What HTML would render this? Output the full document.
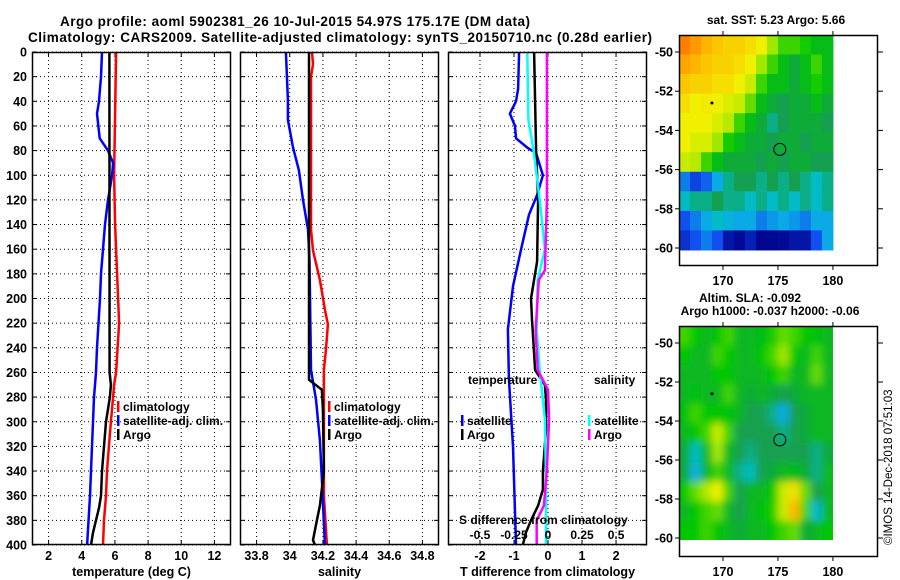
<!DOCTYPE html>
<html><head><meta charset="utf-8"><style>
body{margin:0;background:#fff;}
svg{display:block;font-family:"Liberation Sans",sans-serif;font-weight:bold;}
</style></head><body>
<svg id="c" width="900" height="580" viewBox="0 0 900 580">
<defs>
<filter id="blur" x="-5%" y="-5%" width="110%" height="110%"><feGaussianBlur stdDeviation="4"/></filter>
<clipPath id="slaclip"><rect x="679" y="326" width="154" height="214"/></clipPath>
</defs>
<text x="60" y="26" font-size="13.5" textLength="470">Argo profile: aoml 5902381_26 10-Jul-2015 54.97S 175.17E (DM data)</text>
<text x="340" y="42" font-size="13.5" text-anchor="middle" textLength="624">Climatology: CARS2009. Satellite-adjusted climatology: synTS_20150710.nc (0.28d earlier)</text>
<text x="776" y="24" font-size="12" text-anchor="middle">sat. SST: 5.23 Argo: 5.66</text>
<text x="750" y="302" font-size="12" text-anchor="middle">Altim. SLA: -0.092</text>
<text x="770" y="315" font-size="12" text-anchor="middle">Argo h1000: -0.037 h2000: -0.06</text>
<text transform="translate(892,545) rotate(-90)" font-size="11.5" font-weight="normal">©IMOS 14-Dec-2018 07:51:03</text>
</svg>
<script>
// ---------- data ----------
const depthTicks=[0,20,40,60,80,100,120,140,160,180,200,220,240,260,280,300,320,340,360,380,400];
const tempTicks=[2,4,6,8,10,12];
const salTicks=[33.8,34,34.2,34.4,34.6,34.8];
const salTickLabels=["33.8","34","34.2","34.4","34.6","34.8"];
const tdiffTicks=[-2,-1,0,1,2];
const sdiffTicks=[-0.5,-0.25,0,0.25,0.5];
const sdiffTickLabels=["-0.5","-0.25","0","0.25","0.5"];

const climTDepth=[0,100,140,200,220,260,270,280,300,320,340,360,380,400];
const climT=[6.07,5.95,6.01,6.19,6.25,6.07,5.95,5.89,5.76,5.64,5.52,5.46,5.34,5.28];
const satTDepth=[0,20,40,50,70,80,90,100,120,140,160,180,200,240,260,280,300,340,360,400];
const satT=[5.22,5.16,5.04,4.92,5.08,5.58,5.89,5.83,5.58,5.40,5.28,5.16,5.10,4.92,4.86,4.74,4.68,4.56,4.50,4.32];
const argoTDepth=[0,260,270,280,300,320,340,360,370,380,390,400];
const argoT=[5.67,5.68,5.76,5.70,5.46,5.34,5.22,5.16,5.04,4.86,4.68,4.56];

const climSDepth=[0,10,20,144,161,185,209,221,242,258,300,360,400];
const climS=[34.134,34.140,34.128,34.128,34.140,34.182,34.212,34.230,34.218,34.206,34.206,34.206,34.224];
const satSDepth=[0,39,55,77,96,120,144,169,258,282,315,347,400];
const satS=[33.977,33.989,33.989,34.019,34.055,34.080,34.110,34.119,34.128,34.158,34.182,34.194,34.212];
const argoSDepth=[0,266,274,290,340,368,380,396,400];
const argoS=[34.116,34.116,34.194,34.200,34.206,34.182,34.164,34.140,34.152];

const satTdDepth=[0,30,40,50,60,70,78,82,100,116,132,160,190,225,265,320,400];
const satTd=[-0.85,-0.88,-0.94,-1.12,-0.97,-0.94,-0.59,-0.35,-0.15,-0.32,-0.56,-0.79,-1.03,-1.18,-1.15,-1.03,-0.94];
const argoTdDepth=[0,80,120,170,200,217,258,270,282,307,340,355,368,380,390,400];
const argoTd=[-0.41,-0.35,-0.29,-0.32,-0.50,-0.47,-0.38,-0.09,-0.06,-0.06,-0.15,-0.15,-0.29,-0.50,-0.65,-0.74];
const satSdDepth=[0,55,80,120,160,185,226,258,298,347,400];
const satSd=[-0.152,-0.144,-0.106,-0.061,-0.023,-0.076,-0.083,-0.061,-0.023,-0.015,-0.015];
const argoSdDepth=[0,120,177,185,226,258,274,298,339,368,380,400];
const argoSd=[-0.008,-0.008,-0.023,-0.068,-0.091,-0.076,0,0.008,-0.008,-0.030,-0.083,-0.083];

const sstGrid=[
[.85,.8,.75,.72,.7,.7,.68,.65,.55,.5,.5,.48,.45,.45],
[.78,.75,.72,.7,.7,.68,.65,.55,.5,.45,.42,.45,.5,.45],
[.72,.7,.7,.68,.68,.65,.6,.5,.45,.45,.42,.45,.48,.45],
[.68,.65,.66,.65,.62,.6,.52,.45,.42,.4,.42,.42,.45,.42],
[.65,.65,.65,.62,.58,.5,.45,.42,.38,.4,.42,.42,.42,.4],
[.65,.62,.62,.55,.48,.45,.42,.42,.4,.42,.42,.4,.42,.42],
[.6,.58,.5,.45,.42,.42,.42,.4,.42,.4,.42,.42,.4,.4],
[.25,.18,.22,.3,.38,.4,.4,.38,.4,.38,.4,.38,.35,.38],
[.35,.38,.38,.4,.38,.38,.35,.38,.35,.38,.35,.38,.35,.38],
[.2,.25,.3,.35,.32,.3,.3,.25,.28,.3,.28,.25,.3,.3],
[.15,.2,.25,.2,.1,.08,.12,.05,.05,.08,.1,.1,.2,.3]];
const slaGrid=[
[.5,.47,.44,.47,.5,.44,.44,.45,.48,.52,.5,.47,.46,.44],
[.47,.44,.44,.5,.47,.44,.44,.47,.5,.55,.47,.44,.5,.44],
[.44,.44,.44,.47,.47,.44,.44,.44,.47,.5,.44,.44,.52,.44],
[.44,.46,.44,.44,.5,.44,.42,.44,.42,.4,.42,.44,.44,.44],
[.46,.5,.47,.47,.46,.44,.4,.4,.38,.3,.4,.42,.44,.44],
[.44,.47,.5,.6,.5,.4,.4,.4,.4,.38,.4,.42,.44,.44],
[.42,.36,.44,.55,.44,.4,.38,.4,.4,.4,.4,.4,.38,.42],
[.42,.32,.44,.5,.44,.38,.36,.4,.42,.44,.45,.42,.38,.44],
[.47,.52,.57,.65,.5,.4,.44,.44,.47,.6,.68,.52,.4,.44],
[.44,.47,.5,.52,.44,.4,.44,.46,.48,.6,.75,.5,.34,.44],
[.47,.47,.5,.47,.44,.42,.44,.44,.47,.5,.52,.42,.44,.47]];
const latTicks=[-50,-52,-54,-56,-58,-60];
const lonTicks=[170,175,180];
const argoLon=175.17, argoLat=-54.97;

// ---------- helpers ----------
const NS="http://www.w3.org/2000/svg";
const svg=document.getElementById('c');
function el(tag,attrs,parent){const e=document.createElementNS(NS,tag);for(const k in attrs)e.setAttribute(k,attrs[k]);(parent||svg).appendChild(e);return e;}
const PT=52,PB=545;
const yD=d=>PT+(d/400)*(PB-PT);
function lin(d0,d1,r0,r1){return v=>r0+(v-d0)/(d1-d0)*(r1-r0);}

function panel(name,x0,x1,xs,ticks,labels,xlabel,showDepth){
  const g=el('g',{});
  
  
  ticks.forEach(t=>{const x=xs(t);
    el('line',{x1:x,y1:PT,x2:x,y2:PB,stroke:'#000','stroke-width':1,'stroke-dasharray':'1,3'},g);
    el('line',{x1:x,y1:PT,x2:x,y2:PT+5,stroke:'#000'},g);
    el('line',{x1:x,y1:PB,x2:x,y2:PB-5,stroke:'#000'},g);});
  depthTicks.forEach(d=>{const y=yD(d);
    el('line',{x1:x0,y1:y,x2:x1,y2:y,stroke:'#000','stroke-width':1,'stroke-dasharray':'1,3'},g);
    el('line',{x1:x0,y1:y,x2:x0+5,y2:y,stroke:'#000'},g);
    el('line',{x1:x1,y1:y,x2:x1-5,y2:y,stroke:'#000'},g);
    if(showDepth){const t=el('text',{x:27,y:y+4.5,'font-size':12.5,'text-anchor':'end'},g);t.textContent=d;
      
      }
  });
  ticks.forEach((t,i)=>{const tx=el('text',{x:xs(t),y:560,'font-size':12.5,'text-anchor':'middle'},g);tx.textContent=labels[i];
    
    });
  const xt=el('text',{x:(x0+x1)/2,y:576,'font-size':12.5,'text-anchor':'middle'},g);xt.textContent=xlabel;
  
  
  return g;
}
function frame(g,x0,x1){const r=el('rect',{x:x0+0.5,y:PT+0.5,width:x1-x0-1,height:PB-PT-1,fill:'none',stroke:'#000','stroke-width':1.5},g);
  
  }
function series(g,name,depths,vals,xs,color,w){
  let d='';vals.forEach((v,i)=>{d+=(i?'L':'M')+xs(v).toFixed(1)+','+yD(depths[i]).toFixed(1);});
  const p=el('path',{d:d,fill:'none',stroke:color,'stroke-width':w||2.5,'stroke-linejoin':'round'},g);
  
  
}
function legend(g,x,y,color,label,name){
  el('rect',{x:x,y:y-9,width:2.5,height:11,fill:color},g);
  const t=el('text',{x:x+6,y:y+1,'font-size':12},g);t.textContent=label;
  
  
}

// Panel 1 temperature
const xT=lin(1,13,32,231);
const g1=panel('temperature-panel',32,231,xT,tempTicks,tempTicks.map(String),'temperature (deg C)',true);
series(g1,'temp-climatology-line',climTDepth,climT,xT,'#ff0000');
series(g1,'temp-satellite-line',satTDepth,satT,xT,'#0000ff');
series(g1,'temp-argo-line',argoTDepth,argoT,xT,'#000000');
frame(g1,32,231);
legend(g1,117,410,'#f00','climatology','legend-climatology');
legend(g1,117,424,'#00f','satellite-adj. clim.','legend-satellite');
legend(g1,117,438,'#000','Argo','legend-argo');

// Panel 2 salinity
const xS=lin(33.7,34.9,240,439);
const g2=panel('salinity-panel',240,439,xS,salTicks,salTickLabels,'salinity',false);
series(g2,'sal-climatology-line',climSDepth,climS,xS,'#ff0000');
series(g2,'sal-satellite-line',satSDepth,satS,xS,'#0000ff');
series(g2,'sal-argo-line',argoSDepth,argoS,xS,'#000000');
frame(g2,240,439);
legend(g2,328,410,'#f00','climatology','legend-climatology');
legend(g2,328,424,'#00f','satellite-adj. clim.','legend-satellite');
legend(g2,328,438,'#000','Argo','legend-argo');

// Panel 3 differences
const xTd=lin(-2.94,2.91,448,647);
const xSd=v=>xTd(v*4);
const g3=panel('difference-panel',448,647,xTd,tdiffTicks,tdiffTicks.map(String),'T difference from climatology',false);
series(g3,'tdiff-satellite-line',satTdDepth,satTd,xTd,'#0000ff');
series(g3,'tdiff-argo-line',argoTdDepth,argoTd,xTd,'#000000');
series(g3,'sdiff-satellite-line',satSdDepth,satSd,xSd,'#00ffff');
series(g3,'sdiff-argo-line',argoSdDepth,argoSd,xSd,'#ff00ff');
frame(g3,448,647);
{const t=el('text',{x:468,y:384,'font-size':12},g3);t.textContent='temperature';
 
 
 const s=el('text',{x:594,y:384,'font-size':12},g3);s.textContent='salinity';
 
 }
legend(g3,461,424,'#00f','satellite','legend-temp-satellite');
legend(g3,461,438,'#000','Argo','legend-temp-argo');
legend(g3,588,424,'#0ff','satellite','legend-sal-satellite');
legend(g3,588,438,'#f0f','Argo','legend-sal-argo');
{const t=el('text',{x:459,y:524,'font-size':12},g3);t.textContent='S difference from climatology';
 
 
 sdiffTicks.forEach((v,i)=>{const tx=el('text',{x:xSd(v),y:539,'font-size':12,'text-anchor':'middle'},g3);tx.textContent=sdiffTickLabels[i];
   
   });}

// ---------- maps ----------
const stops=[[0,[0,0,130]],[0.08,[0,10,150]],[0.2,[16,80,240]],[0.3,[10,170,230]],[0.36,[0,190,190]],[0.4,[20,160,80]],[0.47,[0,200,0]],[0.55,[160,232,0]],[0.65,[240,240,0]],[0.75,[255,180,0]],[0.85,[255,128,0]],[1,[220,40,0]]];
function cmap(v){for(let i=1;i<stops.length;i++){if(v<=stops[i][0]){const a=stops[i-1],b=stops[i],f=(v-a[0])/(b[0]-a[0]);
  return 'rgb('+a[1].map((c,k)=>Math.round(c+f*(b[1][k]-c))).join(',')+')';}}return 'rgb(220,40,0)';}
const lonX=lin(166,184.1,679,878);
function drawMap(name,grid,top,bottom,lat50y,lat60y,smooth){
  const g=el('g',{});
  
  
  const outer=el('g',smooth?{'clip-path':'url(#slaclip)'}:{},g);
  const cells=el('g',smooth?{filter:'url(#blur)'}:{},outer);
  const latY=lin(-50,-60,lat50y,lat60y);
  const latTop=-49.13,latBot=-60.1;
  const rows=grid.length,cols=grid[0].length;
  grid.forEach((row,r)=>row.forEach((v,c)=>{
    const x0=lonX(166+c*(14/cols)),x1=lonX(166+(c+1)*(14/cols));
    const la0=latTop+(latBot-latTop)*r/rows,la1=latTop+(latBot-latTop)*(r+1)/rows;
    let y0=latY(la0),y1=latY(la1);
    let ex0=x0,ex1=x1;
    if(smooth){if(r===0)y0-=8;if(r===rows-1)y1+=8;if(c===0)ex0-=8;if(c===cols-1)ex1+=8;}
    else{y0=Math.max(top,y0);}
    const cell=el('rect',{x:ex0,y:y0,width:ex1-ex0+0.5,height:y1-y0+0.5,fill:cmap(v)},cells);
    
    
  }));
  const fr=el('rect',{x:679.5,y:top+0.5,width:198,height:bottom-top-1,fill:'none',stroke:'#000','stroke-width':1.5},g);
  
  
  latTicks.forEach(l=>{const y=latY(l);
    el('line',{x1:878,y1:y,x2:883,y2:y,stroke:'#000'},g);
    el('line',{x1:679,y1:y,x2:675,y2:y,stroke:'#000'},g);
    const t=el('text',{x:673,y:y+4.5,'font-size':12.5,'text-anchor':'end'},g);t.textContent=l;
    
    });
  lonTicks.forEach(l=>{const x=lonX(l);
    el('line',{x1:x,y1:top,x2:x,y2:top-4,stroke:'#000'},g);
    el('line',{x1:x,y1:bottom,x2:x,y2:bottom+4,stroke:'#000'},g);
    const t=el('text',{x:x,y:bottom+19,'font-size':12.5,'text-anchor':'middle'},g);t.textContent=l;
    
    });
  const m=el('circle',{cx:lonX(argoLon),cy:latY(argoLat),r:6,fill:'none',stroke:'#000','stroke-width':1},g);
  
  
  el('circle',{cx:lonX(169),cy:latY(-52.6),r:1.5,fill:'#000'},g);
}
drawMap('sst-map',sstGrid,35,266,52,248,false);
drawMap('sla-map',slaGrid,326,557,343,538,true);
</script>
</body></html>
